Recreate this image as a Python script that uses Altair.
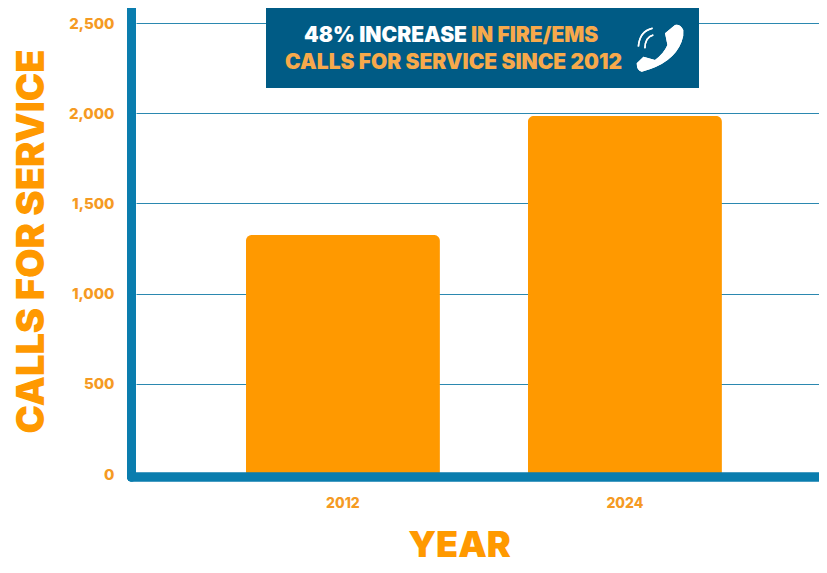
import altair as alt
import pandas as pd

years = ["2012", "2024"]
calls = [1325, 1985]
y_ticks = [0, 500, 1000, 1500, 2000, 2500]
FONT = "Inter"
ORANGE = "#FF9900"
LABEL = "#F59A23"
BLUE = "#0A7DAE"
NAVY = "#005B85"
SOFT = "#F7A94B"
HANDSET = ("M0.21,-0.61 L0.625,-0.96 Q0.85,-1 0.97,-0.75 Q1,-0.5 0.9,-0.26 "
           "Q0.56,0.64 -0.76,0.99 Q-0.97,0.95 -0.97,0.64 L-0.69,0.36 L-0.21,0.5 "
           "Q0.15,0.25 0.31,-0.12 Z")
RINGS = "M-0.31,-0.82 Q-0.85,-0.7 -0.9,-0.06 M-0.28,-0.54 Q-0.62,-0.45 -0.63,0.01"

df = pd.DataFrame({"year": years, "calls": calls})

W, H = 683, 451
base = alt.Chart(df)

bars = base.mark_bar(color=ORANGE, cornerRadiusTopLeft=6, cornerRadiusTopRight=6).encode(
    x=alt.X("year:N", sort=years,
            scale=alt.Scale(domain=years, paddingInner=0.312, paddingOuter=0.367, align=0.531),
            axis=alt.Axis(title="YEAR", titleFont=FONT, titleFontSize=36, titleFontWeight=900,
                          titleColor=ORANGE, titleX=323, titleY=82, titleAnchor="middle",
                          titleBaseline="alphabetic",
                          labelFont=FONT, labelFontSize=14, labelFontWeight=800, labelColor=LABEL,
                          labelAngle=0, labelPadding=22, ticks=False, domain=False, grid=False)),
    y=alt.Y("calls:Q", scale=alt.Scale(domain=[0, 2500], nice=False),
            axis=alt.Axis(title="CALLS FOR SERVICE", titleFont=FONT, titleFontSize=38,
                          titleFontWeight=900, titleColor=ORANGE, titleX=-93, titleY=218,
                          titleAnchor="middle", titleBaseline="alphabetic",
                          values=y_ticks, format=",.0f",
                          labelFont=FONT, labelFontSize=15, labelFontWeight=800, labelColor=LABEL,
                          labelPadding=22, ticks=False, domain=False, grid=True,
                          gridColor="#2B88B0", gridWidth=1)),
)

spine_v = base.mark_rule(color=BLUE, strokeWidth=9, strokeCap="round").encode(
    x=alt.value(-4.5), y=alt.value(-14), y2=alt.value(454))
spine_h = base.mark_rule(color=BLUE, strokeWidth=9, strokeCap="round").encode(
    x=alt.value(-4.5), x2=alt.value(W + 10), y=alt.value(454))

banner = base.mark_rect(color=NAVY).encode(
    x=alt.value(130), x2=alt.value(563), y=alt.value(-15), y2=alt.value(65))


def label(text, x, y, color, align):
    return alt.Chart(pd.DataFrame({"t": [text]})).mark_text(
        font=FONT, fontSize=21, fontWeight=900, color=color, align=align, baseline="alphabetic"
    ).encode(text="t:N", x=alt.value(x), y=alt.value(y))


line1a = label("48% INCREASE", 331, 19, "#FFFFFF", "right")
line1b = label("IN FIRE/EMS", 335, 19, SOFT, "left")
line2 = label("CALLS FOR SERVICE SINCE 2012", 486, 46, SOFT, "right")

handset = base.mark_point(shape=HANDSET, size=2304, filled=True, color="#FFFFFF", opacity=1).encode(
    x=alt.value(524), y=alt.value(25))
rings = base.mark_point(shape=RINGS, size=2304, filled=False, color="#FFFFFF", strokeWidth=1.5, opacity=1).encode(
    x=alt.value(524), y=alt.value(25))

chart = alt.layer(bars, spine_v, spine_h, banner, line1a, line1b, line2, handset, rings).properties(
    width=W, height=H, autosize="none",
    padding={"left": 128, "top": 15, "right": 0, "bottom": 91},
    background="#FFFFFF",
).configure_view(stroke=None)

chart.save("out.html", embed_options={"renderer": "svg", "actions": False})
